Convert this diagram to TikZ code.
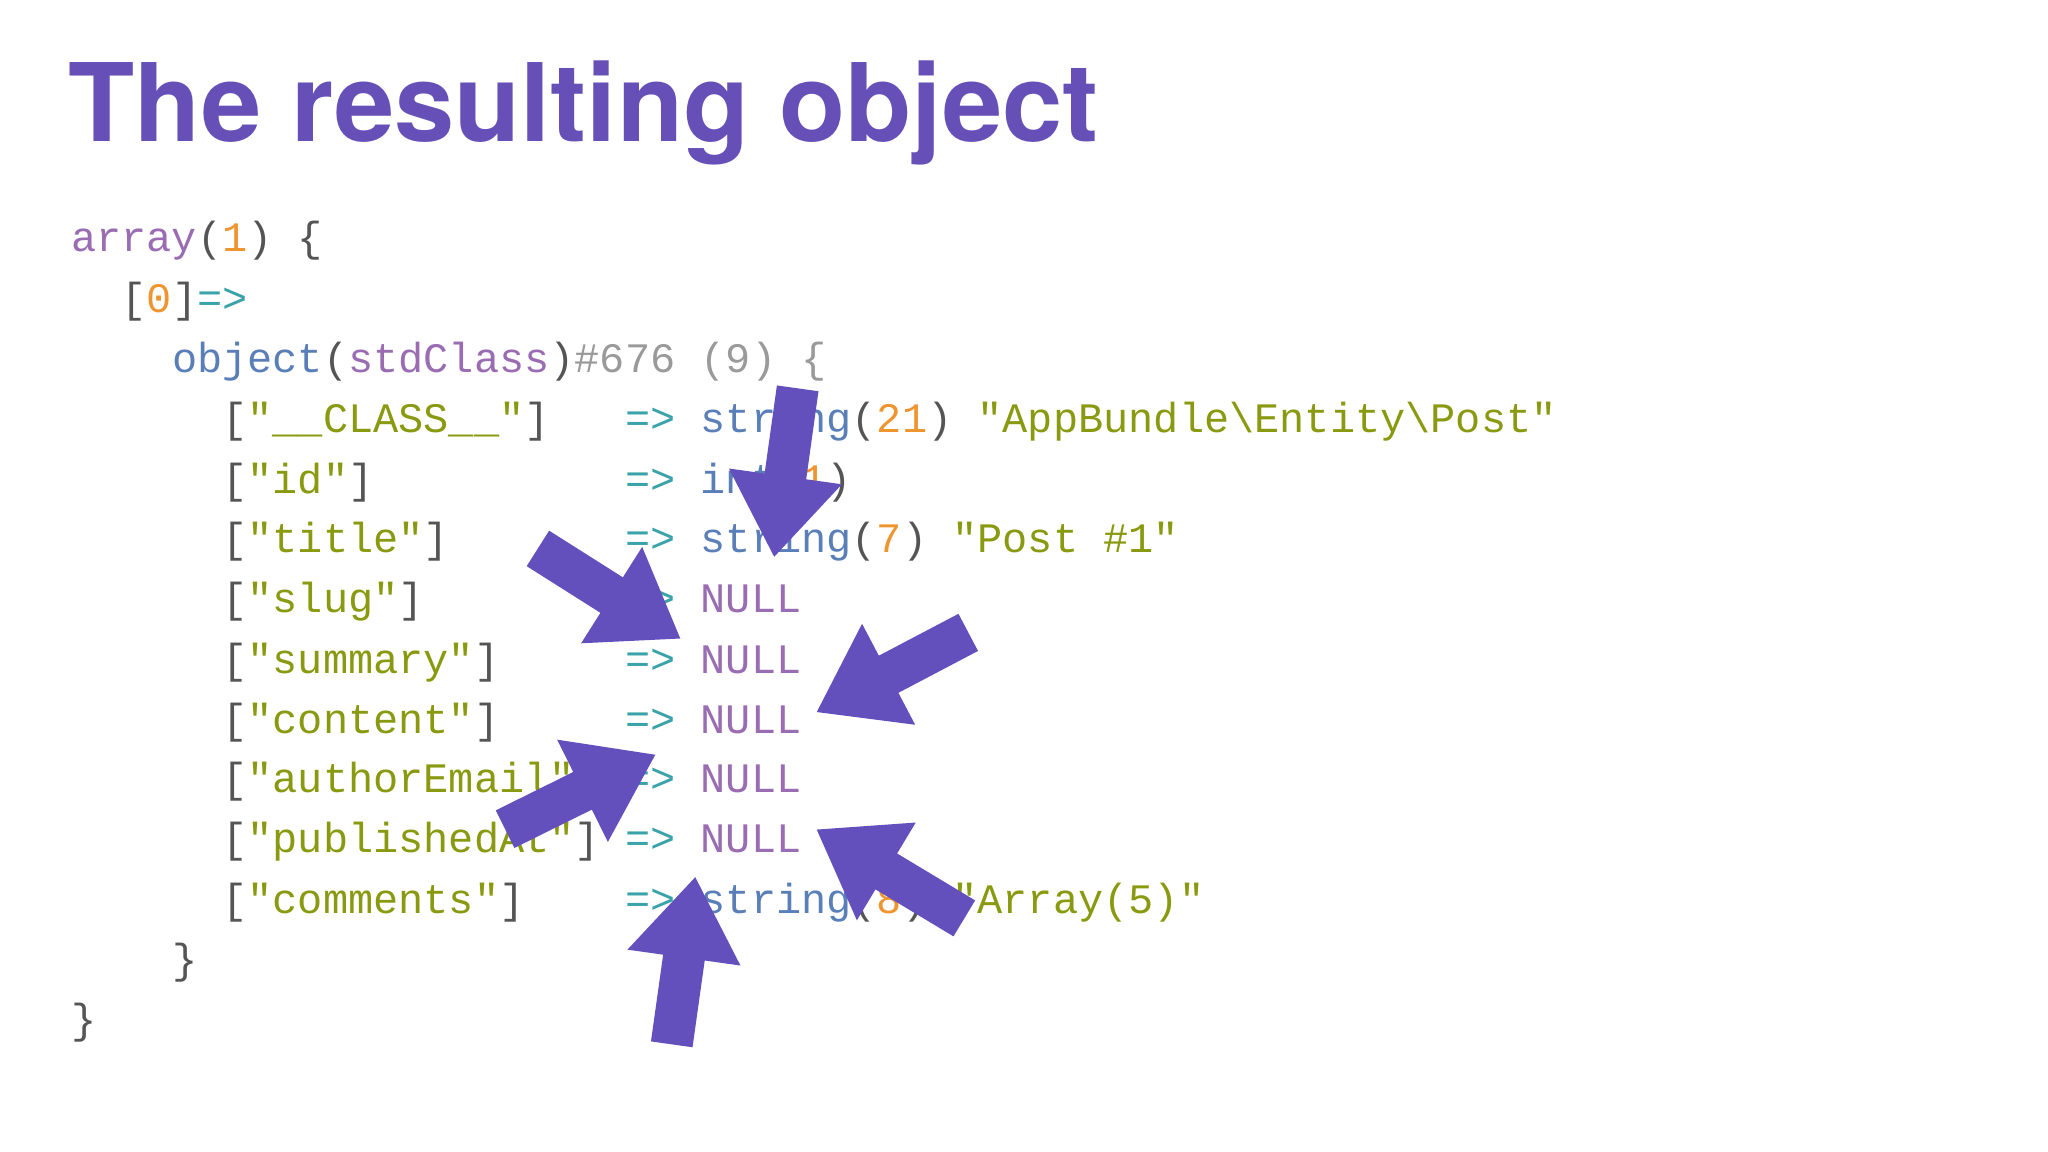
\documentclass[tikz,border=0pt]{standalone}
\usepackage{fontspec}
\setmainfont{TeX Gyre Heros}
\newfontfamily\codefont{Liberation Mono}
\usetikzlibrary{arrows.meta}
\definecolor{ttl}{HTML}{6650B8}
\definecolor{pu}{HTML}{9A6DB3}
\definecolor{og}{HTML}{EE9530}
\definecolor{gy}{HTML}{555555}
\definecolor{lg}{HTML}{9A9A9A}
\definecolor{gr}{HTML}{8A9A10}
\definecolor{te}{HTML}{3AA3AA}
\definecolor{bl}{HTML}{5A7FB8}
\definecolor{arr}{HTML}{6450BC}
\newcommand{\cP}[1]{\textcolor{pu}{#1}}
\newcommand{\cO}[1]{\textcolor{og}{#1}}
\newcommand{\cG}[1]{\textcolor{gy}{#1}}
\newcommand{\cL}[1]{\textcolor{lg}{#1}}
\newcommand{\cS}[1]{\textcolor{gr}{#1}}
\newcommand{\cT}[1]{\textcolor{te}{#1}}
\newcommand{\cB}[1]{\textcolor{bl}{#1}}
\newcommand{\cK}[2]{\cG{[}\cS{"#1"}\cG{]}#2\cT{=>} }
\tikzset{code/.style={anchor=base west,inner sep=0pt,font=\codefont\fontsize{18.2pt}{20pt}\selectfont},
 barrow/.style={draw=arr,line width=0.64cm,-{Triangle[length=1.25cm,width=1.65cm]}}}
\begin{document}
\begin{tikzpicture}[x=0.02cm,y=-0.02cm]
\fill[white] (0,0) rectangle (1561,878);
\useasboundingbox (0,0) rectangle (1561,878);
\node[anchor=base west,inner sep=0pt,text=ttl,font=\bfseries\fontsize{47pt}{50pt}\selectfont] (title) at (52,108) {The resulting object};
\node[code] (l0) at (54,192) {\cP{array}\cG{(}\cO{1}\cG{) \{}};
\node[code] (l1) at (54,238) {\ \ \cG{[}\cO{0}\cG{]}\cT{=>}};
\node[code] (l2) at (54,284) {\ \ \ \ \cB{object}\cG{(}\cP{stdClass}\cG{)}\cL{\#676 (9) \{}};
\node[code] (l3) at (54,330) {\ \ \ \ \ \ \cK{\_\_CLASS\_\_}{\ \ \ }\cB{string}\cG{(}\cO{21}\cG{)} \cS{"AppBundle\textbackslash Entity\textbackslash Post"}};
\node[code] (l4) at (54,376) {\ \ \ \ \ \ \cK{id}{\ \ \ \ \ \ \ \ \ \ }\cB{int}\cG{(}\cO{1}\cG{)}};
\node[code] (l5) at (54,421) {\ \ \ \ \ \ \cK{title}{\ \ \ \ \ \ \ }\cB{string}\cG{(}\cO{7}\cG{)} \cS{"Post \#1"}};
\node[code] (l6) at (54,467) {\ \ \ \ \ \ \cK{slug}{\ \ \ \ \ \ \ \ }\cP{NULL}};
\node[code] (l7) at (54,513) {\ \ \ \ \ \ \cK{summary}{\ \ \ \ \ }\cP{NULL}};
\node[code] (l8) at (54,559) {\ \ \ \ \ \ \cK{content}{\ \ \ \ \ }\cP{NULL}};
\node[code] (l9) at (54,604) {\ \ \ \ \ \ \cK{authorEmail}{\ }\cP{NULL}};
\node[code] (l10) at (54,650) {\ \ \ \ \ \ \cK{publishedAt}{\ }\cP{NULL}};
\node[code] (l11) at (54,696) {\ \ \ \ \ \ \cK{comments}{\ \ \ \ }\cB{string}\cG{(}\cO{8}\cG{)} \cS{"Array(5)"}};
\node[code] (l12) at (54,742) {\ \ \ \ \cG{\}}};
\node[code] (l13) at (54,788) {\cG{\}}};
\coordinate (a1s) at (608,296); \coordinate (a1e) at (590,425);
\coordinate (a2s) at (410,418); \coordinate (a2e) at (519,487);
\coordinate (a3s) at (738,482); \coordinate (a3e) at (622,543);
\coordinate (a4s) at (385,632); \coordinate (a4e) at (500,575);
\coordinate (a5s) at (735,700); \coordinate (a5e) at (622,632);
\coordinate (a6s) at (512,796); \coordinate (a6e) at (530,668);
\foreach \i in {1,...,6} \draw[barrow] (a\i s) -- (a\i e);
\end{tikzpicture}
\end{document}
